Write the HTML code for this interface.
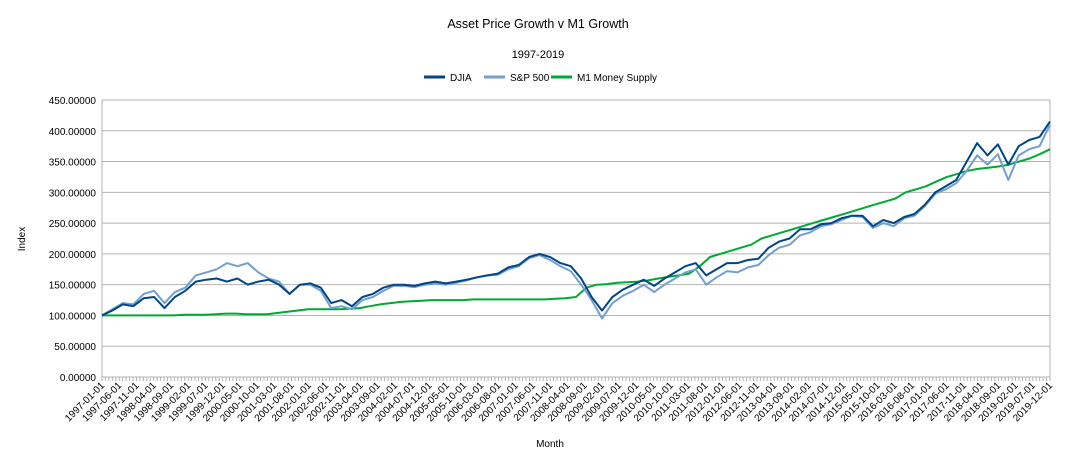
<!DOCTYPE html>
<html><head><meta charset="utf-8">
<style>
body{margin:0;background:#fff;font-family:"Liberation Sans",sans-serif;}
svg text{font-family:"Liberation Sans",sans-serif;}
</style></head>
<body>
<svg id="chart" width="1076" height="465" xmlns="http://www.w3.org/2000/svg">
<rect width="1076" height="465" fill="#fff"/>
<text x="538" y="28" text-anchor="middle" font-size="12.5">Asset Price Growth v M1 Growth</text>
<text x="538" y="58" text-anchor="middle" font-size="11">1997-2019</text>
<g font-size="10">
<line x1="424" y1="77" x2="445" y2="77" stroke="#004586" stroke-width="3"/><text x="450" y="81">DJIA</text>
<line x1="484" y1="77" x2="505" y2="77" stroke="#729fcf" stroke-width="3"/><text x="510" y="81">S&amp;P 500</text>
<line x1="551" y1="77" x2="572" y2="77" stroke="#00a933" stroke-width="3"/><text x="577" y="81">M1 Money Supply</text>
</g>
<text transform="translate(25,239) rotate(-90)" text-anchor="middle" font-size="10">Index</text>
<text x="550" y="447" text-anchor="middle" font-size="10">Month</text>
<g id="grid"></g><g id="axes"></g><g id="series"></g>
</svg>
<script>
const yTicks=[0,50,100,150,200,250,300,350,400,450];
const djia=[100,108,118,115,128,130,112,130,140,155,158,160,155,160,150,155,158,150,135,150,152,145,120,125,115,130,135,145,150,150,148,152,155,152,155,158,162,165,168,178,182,195,200,195,185,180,160,130,108,130,142,150,158,148,160,170,180,185,165,175,185,185,190,192,210,220,225,240,240,248,250,258,262,262,245,255,250,260,265,280,300,310,320,350,380,360,378,345,375,385,390,415];
const sp500=[100,110,120,118,135,140,120,138,145,165,170,175,185,180,185,170,160,155,135,150,150,140,112,115,110,125,130,140,148,148,146,150,152,150,153,157,162,165,166,175,180,193,198,190,180,172,150,125,95,120,132,140,150,138,150,160,170,175,150,162,172,170,178,182,198,210,215,230,235,245,248,255,262,260,242,250,245,258,262,278,298,305,315,335,360,345,362,320,360,370,375,410];
const m1=[100,100,100,100,100,100,100,100,101,101,101,102,103,103,102,102,102,104,106,108,110,110,110,110,111,112,115,118,120,122,123,124,125,125,125,125,126,126,126,126,126,126,126,126,127,128,130,145,150,151,153,154,155,157,160,163,165,168,180,195,200,205,210,215,225,230,235,240,245,250,255,260,265,270,275,280,285,290,300,305,310,318,325,330,335,338,340,342,345,350,355,362,370];
const months=276, x0=102, x1=1050, yb=377, yt=100;
const xS=m=>x0+m*(x1-x0)/(months-1);
const yS=v=>yb-v*(yb-yt)/450;
const NS="http://www.w3.org/2000/svg";
function mk(t,a,p){const e=document.createElementNS(NS,t);for(const k in a)e.setAttribute(k,a[k]);p.appendChild(e);return e;}
const grid=document.getElementById('grid'),axes=document.getElementById('axes'),ser=document.getElementById('series');
yTicks.forEach(v=>{
 const l=mk('line',{x1:x0,x2:x1,y1:yS(v),y2:yS(v),stroke:'#b3b3b3','stroke-width':1},grid);
 
 
 const t=mk('text',{x:x0-6,y:yS(v)+4,'text-anchor':'end','font-size':10},axes);
 t.textContent=v.toFixed(5);
 
 
});
mk('line',{x1:x0,x2:x0,y1:yt,y2:yb,stroke:'#b3b3b3'},axes);
mk('line',{x1:x1,x2:x1,y1:yt,y2:yb,stroke:'#b3b3b3'},axes);
for(let m=0;m<months;m++){
 mk('line',{x1:xS(m),x2:xS(m),y1:yb,y2:yb+4,stroke:'#b3b3b3'},axes);
 if(m%5===0){
  const yr=1997+Math.floor(m/12),mo=m%12+1;
  const t=mk('text',{transform:`translate(${xS(m)+3},${yb+9}) rotate(-45)`,'text-anchor':'end','font-size':10},axes);
  t.textContent=`${yr}-${String(mo).padStart(2,'0')}-01`;
  
  
 }
}
function line(data,color,name){
 const n=data.length;
 const pts=data.map((v,i)=>xS(i*(months-1)/(n-1)).toFixed(1)+','+yS(v).toFixed(1)).join(' ');
 const p=mk('polyline',{points:pts,fill:'none',stroke:color,'stroke-width':2,'stroke-linejoin':'round'},ser);
 
 
}
line(m1,'#00a933','m1-line');
line(sp500,'#729fcf','sp500-line');
line(djia,'#004586','djia-line');
</script>
</body></html>
